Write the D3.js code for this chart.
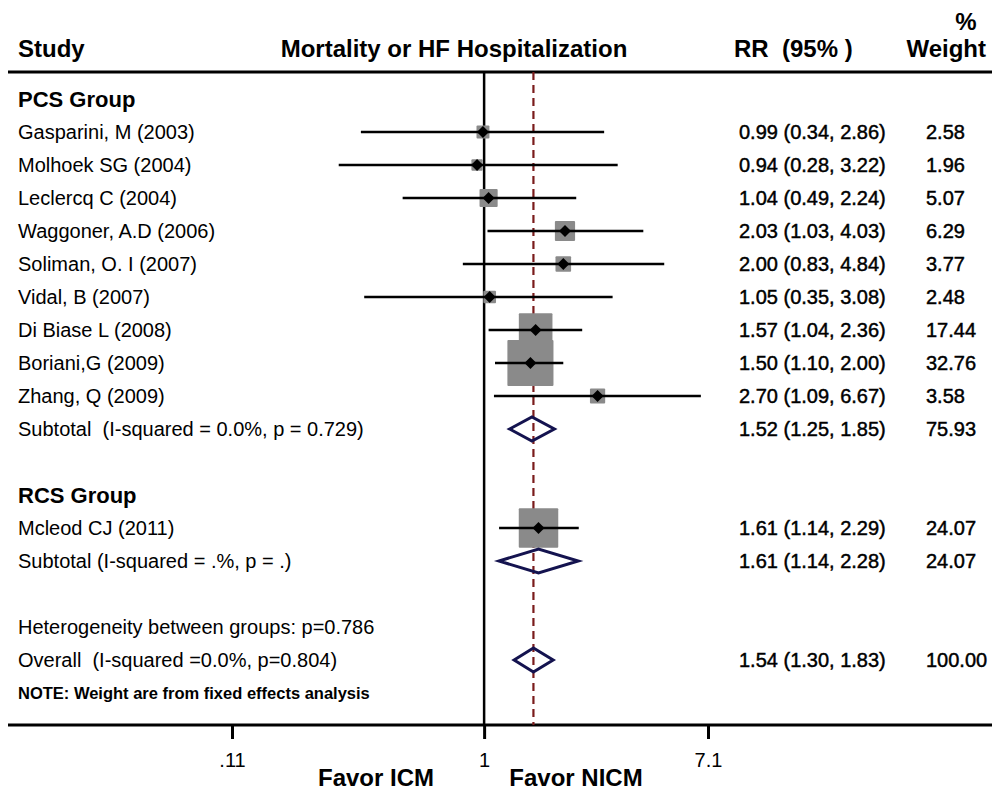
<!DOCTYPE html>
<html>
<head>
<meta charset="utf-8">
<script src="https://cdn.jsdelivr.net/npm/d3@7"></script>
<style>
  body { margin: 0; background: #fff; }
  text { font-family: "Liberation Sans", Arial, sans-serif; fill: #000; white-space: pre; }
</style>
</head>
<body>
<script>
// study rows
const studies = ["Gasparini, M (2003)", "Molhoek SG (2004)", "Leclercq C (2004)", "Waggoner, A.D (2006)",
  "Soliman, O. I (2007)", "Vidal, B (2007)", "Di Biase L (2008)", "Boriani,G (2009)", "Zhang, Q (2009)",
  "Mcleod CJ (2011)"];
const studyGroup = ["PCS", "PCS", "PCS", "PCS", "PCS", "PCS", "PCS", "PCS", "PCS", "RCS"];
const rr = [0.99, 0.94, 1.04, 2.03, 2.00, 1.05, 1.57, 1.50, 2.70, 1.61];
const lo = [0.34, 0.28, 0.49, 1.03, 0.83, 0.35, 1.04, 1.10, 1.09, 1.14];
const hi = [2.86, 3.22, 2.24, 4.03, 4.84, 3.08, 2.36, 2.00, 6.67, 2.29];
const weight = ["2.58", "1.96", "5.07", "6.29", "3.77", "2.48", "17.44", "32.76", "3.58", "24.07"];

// pooled rows
const pooledLabels = ["Subtotal  (I-squared = 0.0%, p = 0.729)", "Subtotal (I-squared = .%, p = .)", "Overall  (I-squared =0.0%, p=0.804)"];
const pooledRR = [1.52, 1.61, 1.54];
const pooledLo = [1.25, 1.14, 1.30];
const pooledHi = [1.85, 2.28, 1.83];
const pooledWeight = ["75.93", "24.07", "100.00"];

const groups = ["PCS Group", "RCS Group"];
const tickValues = [0.11, 1, 7.1];
const tickLabels = [".11", "1", "7.1"];

const width = 992, height = 790;
const svg = d3.select("body").append("svg").attr("width", width).attr("height", height);

const x = d3.scaleLog().domain([0.11, 7.1]).range([232, 708]);
const y = d3.scaleLinear().domain([0, 18]).range([99, 99 + 33 * 18]);

const fmt = d3.format(".2f");
const ciText = (r, l, h) => `${fmt(r)} (${fmt(l)}, ${fmt(h)})`;

// row layout
const rows = [];
rows.push({type: "group", label: groups[0], row: 0});
studies.forEach((s, i) => { if (studyGroup[i] === "PCS") rows.push({type: "study", i, row: rows.length}); });
rows.push({type: "pooled", i: 0, row: 10});
rows.push({type: "group", label: groups[1], row: 12});
studies.forEach((s, i) => { if (studyGroup[i] === "RCS") rows.push({type: "study", i, row: 13}); });
rows.push({type: "pooled", i: 1, row: 14});
rows.push({type: "text", label: "Heterogeneity between groups: p=0.786", row: 16});
rows.push({type: "pooled", i: 2, row: 17});

const axisY = 725, topY = 72;

// header
const head = svg.append("g").style("font-weight", "bold").style("font-size", "24px");
head.append("text").attr("x", 18).attr("y", 57).text("Study");
head.append("text").attr("x", 454).attr("y", 57).attr("text-anchor", "middle").text("Mortality or HF Hospitalization");
head.append("text").attr("x", 734).attr("y", 57).text("RR  (95% )");
head.append("text").attr("x", 966).attr("y", 30).attr("text-anchor", "middle").text("%");
head.append("text").attr("x", 986).attr("y", 57).attr("text-anchor", "end").text("Weight");

svg.append("line").attr("x1", 8).attr("x2", width).attr("y1", topY).attr("y2", topY)
  .attr("stroke", "#000").attr("stroke-width", 3);
svg.append("line").attr("x1", 8).attr("x2", width).attr("y1", axisY).attr("y2", axisY)
  .attr("stroke", "#000").attr("stroke-width", 3);

// no-effect line
svg.append("line").attr("x1", x(1)).attr("x2", x(1)).attr("y1", topY).attr("y2", axisY)
  .attr("stroke", "#000").attr("stroke-width", 2.5);

// overall estimate line
svg.append("line").attr("x1", x(pooledRR[2])).attr("x2", x(pooledRR[2])).attr("y1", topY).attr("y2", axisY)
  .attr("stroke", "#7a1b1b").attr("stroke-width", 2.2).attr("stroke-dasharray", "8,5");

const gRows = svg.append("g");

// boxes first
rows.filter(d => d.type === "study").forEach(d => {
  const s = 8.05 * Math.sqrt(+weight[d.i]);
  gRows.append("rect").attr("x", x(rr[d.i]) - s / 2).attr("y", y(d.row) - s / 2)
    .attr("width", s).attr("height", s).attr("fill", "#8a8a8a").attr("rx", 1);
});

// numbers look slightly heavier than the labels in the original
const numText = (cy, xx, t) => gRows.append("text").attr("x", xx).attr("y", cy).attr("dy", "0.36em")
  .style("font-size", "20px").attr("stroke", "#000").attr("stroke-width", 0.45).text(t);
const label = (cy, t, size) => gRows.append("text").attr("x", 18).attr("y", cy).attr("dy", "0.36em")
  .style("font-size", size || "20px").text(t);

rows.forEach(d => {
  const cy = y(d.row);
  if (d.type === "group") {
    label(cy, d.label, "22px").style("font-weight", "bold");
  } else if (d.type === "text") {
    label(cy, d.label);
  } else if (d.type === "study") {
    const i = d.i;
    label(cy, studies[i]);
    gRows.append("line").attr("x1", x(lo[i])).attr("x2", x(hi[i])).attr("y1", cy).attr("y2", cy)
      .attr("stroke", "#000").attr("stroke-width", 2.5);
    const p = x(rr[i]);
    gRows.append("path").attr("d", `M${p - 6},${cy}L${p},${cy - 6}L${p + 6},${cy}L${p},${cy + 6}Z`).attr("fill", "#000");
    numText(cy, 739, ciText(rr[i], lo[i], hi[i]));
    numText(cy, 926, weight[i]);
  } else if (d.type === "pooled") {
    const i = d.i;
    label(cy, pooledLabels[i]);
    const a = x(pooledLo[i]), b = x(pooledHi[i]), m = x(pooledRR[i]);
    gRows.append("path").attr("d", `M${a},${cy}L${m},${cy - 12}L${b},${cy}L${m},${cy + 12}Z`)
      .attr("fill", "none").attr("stroke", "#14134f").attr("stroke-width", 3);
    numText(cy, 739, ciText(pooledRR[i], pooledLo[i], pooledHi[i]));
    numText(cy, 926, pooledWeight[i]);
  }
});

label(y(18), "NOTE: Weight are from fixed effects analysis", "16.5px").style("font-weight", "bold");

// axis
const axis = d3.axisBottom(x).tickValues(tickValues).tickFormat((d, i) => tickLabels[i]).tickSize(14).tickPadding(14);
const gAxis = svg.append("g").attr("transform", `translate(0,${axisY})`).call(axis);
gAxis.select(".domain").remove();
gAxis.selectAll(".tick line").attr("stroke", "#000").attr("stroke-width", 3);
gAxis.selectAll(".tick text").style("font-size", "20px").style("font-family", "'Liberation Sans', Arial, sans-serif").attr("fill", "#000");

svg.append("text").attr("x", 376).attr("y", 786).attr("text-anchor", "middle")
  .style("font-weight", "bold").style("font-size", "24px").text("Favor ICM");
svg.append("text").attr("x", 576).attr("y", 786).attr("text-anchor", "middle")
  .style("font-weight", "bold").style("font-size", "24px").text("Favor NICM");
</script>
</body>
</html>
